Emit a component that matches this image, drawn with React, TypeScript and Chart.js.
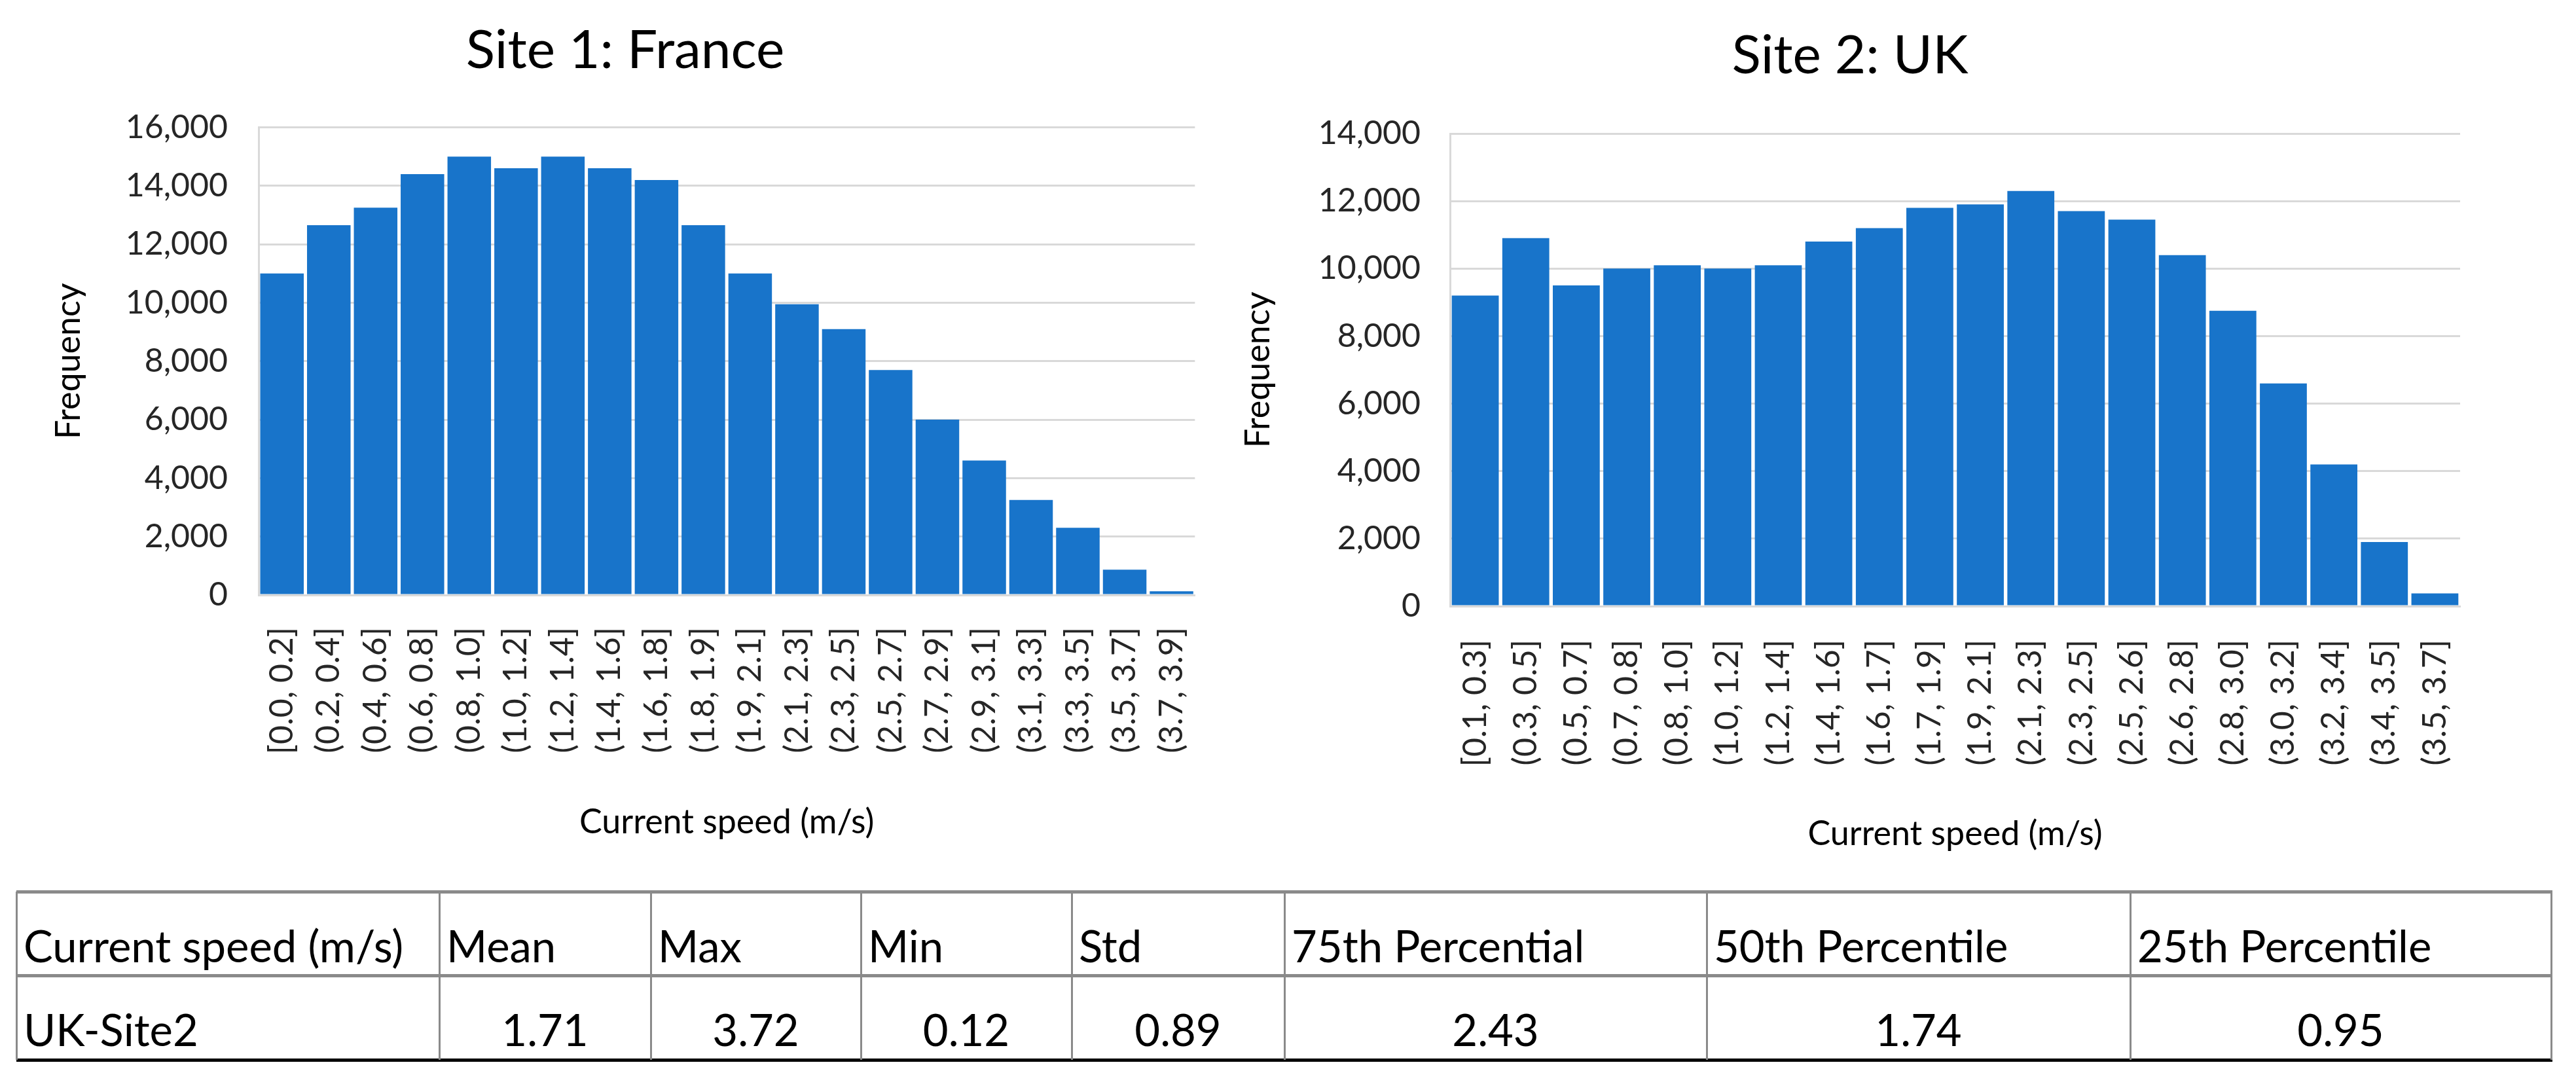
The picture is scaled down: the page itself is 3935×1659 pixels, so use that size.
import React, { useEffect, useRef } from 'react';
import { Chart, registerables } from 'chart.js';

Chart.register(...registerables);

// ---------- Data ----------
const franceLabels = [
  '[0.0, 0.2]', '(0.2, 0.4]', '(0.4, 0.6]', '(0.6, 0.8]', '(0.8, 1.0]',
  '(1.0, 1.2]', '(1.2, 1.4]', '(1.4, 1.6]', '(1.6, 1.8]', '(1.8, 1.9]',
  '(1.9, 2.1]', '(2.1, 2.3]', '(2.3, 2.5]', '(2.5, 2.7]', '(2.7, 2.9]',
  '(2.9, 3.1]', '(3.1, 3.3]', '(3.3, 3.5]', '(3.5, 3.7]', '(3.7, 3.9]',
];
const franceFreq = [
  11000, 12650, 13250, 14400, 15000, 14600, 15000, 14600, 14200, 12650,
  11000, 9950, 9100, 7700, 6000, 4600, 3250, 2300, 870, 130,
];
const ukLabels = [
  '[0.1, 0.3]', '(0.3, 0.5]', '(0.5, 0.7]', '(0.7, 0.8]', '(0.8, 1.0]',
  '(1.0, 1.2]', '(1.2, 1.4]', '(1.4, 1.6]', '(1.6, 1.7]', '(1.7, 1.9]',
  '(1.9, 2.1]', '(2.1, 2.3]', '(2.3, 2.5]', '(2.5, 2.6]', '(2.6, 2.8]',
  '(2.8, 3.0]', '(3.0, 3.2]', '(3.2, 3.4]', '(3.4, 3.5]', '(3.5, 3.7]',
];
const ukFreq = [
  9200, 10900, 9500, 10000, 10100, 10000, 10100, 10800, 11200, 11800,
  11900, 12300, 11700, 11450, 10400, 8750, 6600, 4200, 1900, 380,
];
const franceYMax = 16000;
const ukYMax = 14000;
const yStep = 2000;

const statHeaders = [
  'Current speed (m/s)', 'Mean', 'Max', 'Min', 'Std',
  '75th Percential', '50th Percentile', '25th Percentile',
];
const statRowLabel = 'UK-Site2';
const statValues = ['1.71', '3.72', '0.12', '0.89', '2.43', '1.74', '0.95'];

// ---------- Styles ----------
const FONT = 'Lato, "Open Sans", sans-serif';
const BAR = 'rgb(24,116,202)';
const GRID = '#d9d9d9';
const TICK = '#262626';

type ChartGeom = {
  title: string;
  labels: string[];
  values: number[];
  yMax: number;
  left: number;
  width: number;
  height: number;
  padL: number;
  padR: number;
  yAxisW: number;
  yTickPad: number;
  yTitlePadTop: number;
  titlePadTop: number;
  titlePadBottom: number;
  xAxisH: number;
  xTickPad: number;
  xTitlePadBottom: number;
};

function HistChart(p: ChartGeom) {
  const ref = useRef<HTMLCanvasElement | null>(null);
  useEffect(() => {
    if (!ref.current) return;
    const chart = new Chart(ref.current, {
      type: 'bar',
      data: {
        labels: p.labels,
        datasets: [
          {
            data: p.values,
            backgroundColor: BAR,
            borderWidth: 0,
            barPercentage: 0.93,
            categoryPercentage: 1,
          },
        ],
      },
      options: {
        animation: false,
        responsive: false,
        maintainAspectRatio: false,
        devicePixelRatio: 1,
        layout: { padding: { left: p.padL, right: p.padR, top: 0, bottom: 0 } },
        plugins: {
          legend: { display: false },
          tooltip: { enabled: false },
          title: {
            display: true,
            text: p.title,
            color: '#000',
            font: { family: FONT, size: 82, weight: 'normal', lineHeight: 1.2 },
            padding: { top: p.titlePadTop, bottom: p.titlePadBottom },
          },
        },
        scales: {
          x: {
            grid: { display: false, drawTicks: false },
            border: { display: true, color: GRID, width: 3 },
            ticks: {
              autoSkip: false,
              minRotation: 90,
              maxRotation: 90,
              padding: p.xTickPad,
              color: TICK,
              font: { family: FONT, size: 50 },
            },
            title: {
              display: true,
              text: 'Current speed (m/s)',
              color: '#000',
              font: { family: FONT, size: 52, lineHeight: 1.2 },
              padding: { top: 0, bottom: p.xTitlePadBottom },
            },
            afterFit: (s: any) => {
              s.height = p.xAxisH;
            },
          },
          y: {
            min: 0,
            max: p.yMax,
            ticks: {
              stepSize: yStep,
              padding: p.yTickPad,
              color: TICK,
              font: { family: FONT, size: 50 },
              callback: (v: any) => Number(v).toLocaleString('en-US'),
            },
            grid: { color: GRID, lineWidth: 3, drawTicks: false },
            border: { display: true, color: GRID, width: 3 },
            title: {
              display: true,
              text: 'Frequency',
              color: '#000',
              font: { family: FONT, size: 52, lineHeight: 1 },
              padding: { top: p.yTitlePadTop, bottom: 0 },
            },
            afterFit: (s: any) => {
              s.width = p.yAxisW;
            },
          },
        },
      } as any,
    });
    return () => chart.destroy();
  }, []);
  return (
    <canvas
      ref={ref}
      width={p.width}
      height={p.height}
      style={{ position: 'absolute', left: p.left, top: 0, width: p.width, height: p.height }}
    />
  );
}

// table geometry
const colEdges = [25, 671, 994, 1315, 1637, 1962, 2607, 3254, 3897];
const tableTop = 1362;
const tableMid = 1490;
const tableBottom = 1619;

function StatsTable() {
  const lines: React.ReactNode[] = [];
  const gray = '#8a8a8a';
  lines.push(
    <div key="ht" style={{ position: 'absolute', left: colEdges[0], top: tableTop - 2, width: colEdges[8] - colEdges[0] + 2, height: 5, background: gray }} />,
  );
  lines.push(
    <div key="hm" style={{ position: 'absolute', left: colEdges[0], top: tableMid - 2, width: colEdges[8] - colEdges[0] + 2, height: 5, background: gray }} />,
  );
  lines.push(
    <div key="hb" style={{ position: 'absolute', left: colEdges[0], top: tableBottom - 2, width: colEdges[8] - colEdges[0] + 2, height: 5, background: '#000' }} />,
  );
  colEdges.forEach((x, i) => {
    lines.push(
      <div key={'v' + i} style={{ position: 'absolute', left: x - 1, top: tableTop, width: 3, height: tableBottom - tableTop, background: gray }} />,
    );
  });
  const textBase: React.CSSProperties = {
    position: 'absolute',
    fontFamily: FONT,
    fontSize: 67,
    lineHeight: '67px',
    color: '#000',
    whiteSpace: 'nowrap',
  };
  const cells: React.ReactNode[] = [];
  statHeaders.forEach((h, i) => {
    cells.push(
      <div key={'h' + i} style={{ ...textBase, left: colEdges[i] + 11, top: 1411 }}>
        {h}
      </div>,
    );
  });
  cells.push(
    <div key="rl" style={{ ...textBase, left: colEdges[0] + 11, top: 1539 }}>
      {statRowLabel}
    </div>,
  );
  statValues.forEach((v, i) => {
    const l = colEdges[i + 1];
    const r = colEdges[i + 2];
    cells.push(
      <div key={'c' + i} style={{ ...textBase, left: l, width: r - l, textAlign: 'center', top: 1539 }}>
        {v}
      </div>,
    );
  });
  return (
    <>
      {lines}
      {cells}
    </>
  );
}

export default function App() {
  return (
    <div style={{ position: 'absolute', left: 0, top: 0, width: 3935, height: 1659, background: '#fff', overflow: 'hidden' }}>
      <HistChart
        title="Site 1: France"
        labels={franceLabels}
        values={franceFreq}
        yMax={franceYMax}
        left={0}
        width={1900}
        height={1320}
        padL={68}
        padR={58}
        yAxisW={327}
        yTickPad={47}
        yTitlePadTop={11}
        titlePadTop={28.8}
        titlePadBottom={67.3}
        xAxisH={411}
        xTickPad={49}
        xTitlePadBottom={33}
      />
      <HistChart
        title="Site 2: UK"
        labels={ukLabels}
        values={ukFreq}
        yMax={ukYMax}
        left={1880}
        width={2055}
        height={1320}
        padL={14}
        padR={177}
        yAxisW={321}
        yTickPad={45}
        yTitlePadTop={2}
        titlePadTop={36.8}
        titlePadBottom={68.8}
        xAxisH={394}
        xTickPad={51}
        xTitlePadBottom={15}
      />
      <StatsTable />
    </div>
  );
}
